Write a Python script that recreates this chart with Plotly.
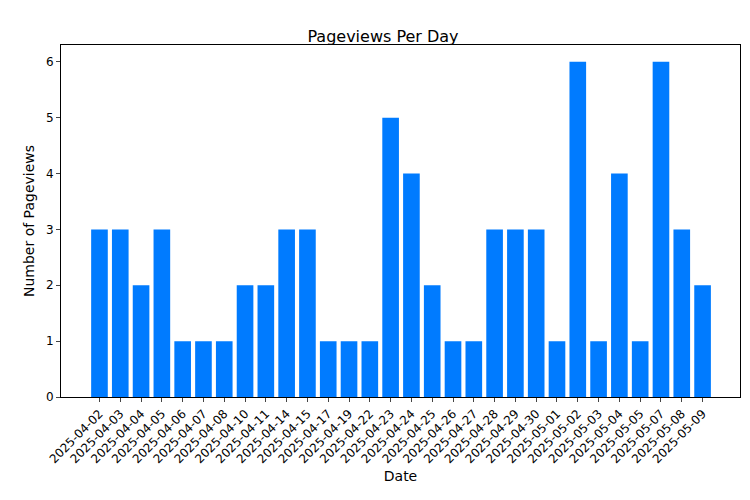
import plotly.graph_objects as go

dates = ["2025-04-02","2025-04-03","2025-04-04","2025-04-05","2025-04-06","2025-04-07","2025-04-08",
         "2025-04-10","2025-04-11","2025-04-14","2025-04-15","2025-04-17","2025-04-19","2025-04-22",
         "2025-04-23","2025-04-24","2025-04-25","2025-04-26","2025-04-27","2025-04-28","2025-04-29",
         "2025-04-30","2025-05-01","2025-05-02","2025-05-03","2025-05-04","2025-05-05","2025-05-07",
         "2025-05-08","2025-05-09"]
views = [3,3,2,3,1,1,1,2,2,3,3,1,1,1,5,4,2,1,1,3,3,3,1,6,1,4,1,6,3,2]

fig = go.Figure(go.Bar(x=dates, y=views, marker=dict(color="#007bff", line_width=0), width=0.8))
fig.update_layout(
    width=750, height=500, plot_bgcolor="white", paper_bgcolor="white",
    margin=dict(l=53, r=18, t=37, b=111),
    font=dict(family="DejaVu Sans", size=12, color="black"),
    title=dict(text="Pageviews Per Day", x=0.5, xanchor="center", y=0.955, font=dict(size=16)),
    showlegend=False,
)
fig.update_xaxes(type="category", tickangle=-45, showline=True, linecolor="black", mirror=True,
                 ticks="outside", ticklen=4, showgrid=False, range=[-1.85, 30.8],
                 title=dict(text="Date", standoff=6), tickfont=dict(size=12))
fig.update_yaxes(range=[0, 6.3], dtick=1, showline=True, linecolor="black", mirror=True,
                 ticks="outside", ticklen=4, showgrid=False, zeroline=False,
                 title=dict(text="Number of Pageviews", standoff=8))
fig.write_html("out.html")
